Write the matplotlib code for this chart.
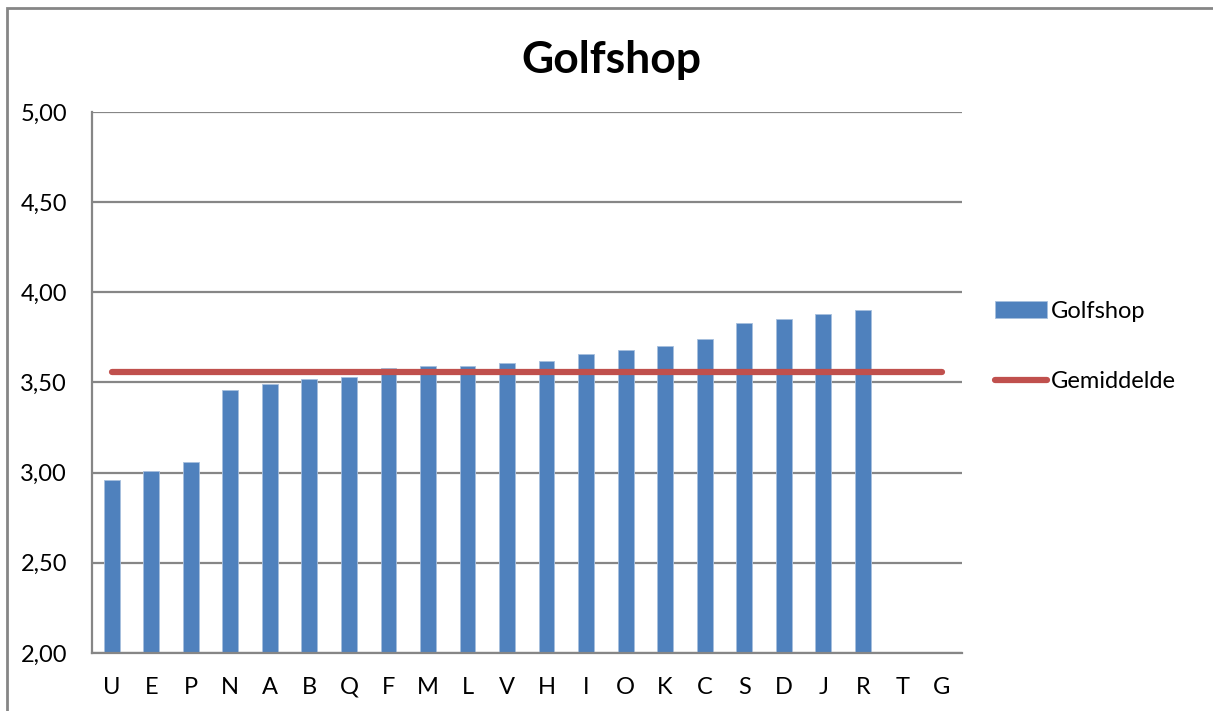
import matplotlib.pyplot as plt
from matplotlib.patches import Rectangle
from matplotlib.ticker import FuncFormatter

plt.rcParams['font.family'] = ['Lato', 'DejaVu Sans']

# data
categories = ['U', 'E', 'P', 'N', 'A', 'B', 'Q', 'F', 'M', 'L', 'V',
              'H', 'I', 'O', 'K', 'C', 'S', 'D', 'J', 'R', 'T', 'G']
golfshop = [2.96, 3.01, 3.06, 3.46, 3.49, 3.52, 3.53, 3.58, 3.59, 3.59, 3.61,
            3.62, 3.66, 3.68, 3.70, 3.74, 3.83, 3.85, 3.88, 3.90]
gemiddelde = [3.56] * len(categories)

bar_color = '#4F81BD'
line_color = '#C0504D'
grid_color = '#868686'

fig = plt.figure(figsize=(12.13, 7.11), dpi=100)
ax = fig.add_axes([0.0758, 0.0816, 0.717, 0.761])

x = list(range(len(categories)))
bars = ax.bar(x[:len(golfshop)], golfshop, width=0.4, color=bar_color,
              edgecolor='#A7BFDE', linewidth=0.6, label='Golfshop', zorder=2)
line, = ax.plot(x, gemiddelde, color=line_color, lw=4.5, solid_capstyle='round',
                label='Gemiddelde', zorder=3)

ax.set_xlim(-0.5, len(categories) - 0.5)
ax.set_ylim(2.0, 5.0)
ax.set_yticks([2.0, 2.5, 3.0, 3.5, 4.0, 4.5, 5.0])
ax.yaxis.set_major_formatter(FuncFormatter(lambda v, p: f'{v:.2f}'.replace('.', ',')))
ax.set_xticks(x)
ax.set_xticklabels(categories)
ax.tick_params(axis='both', length=0, labelsize=17, colors='black')
ax.tick_params(axis='y', pad=18)
ax.tick_params(axis='x', pad=17)

ax.grid(axis='y', color=grid_color, lw=1.6, zorder=0)
ax.set_axisbelow(True)
for side in ['top', 'right']:
    ax.spines[side].set_visible(False)
for side in ['left', 'bottom']:
    ax.spines[side].set_color(grid_color)
    ax.spines[side].set_linewidth(1.6)

fig.text(0.504, 0.915, 'Golfshop', ha='center', va='center',
         fontsize=32, fontweight='bold')

fig.legend([bars, line], ['Golfshop', 'Gemiddelde'],
           loc='center left', bbox_to_anchor=(0.820, 0.5127), frameon=False,
           fontsize=17, handlelength=2.2, handleheight=0.7, handletextpad=0.2,
           labelspacing=2.1, borderpad=0, borderaxespad=0)

# outer chart border
fig.patches.append(Rectangle((7 / 1213, -0.05), 1.2, 1 - 8 / 711 + 0.05,
                             transform=fig.transFigure, fill=False,
                             edgecolor=grid_color, lw=2))

fig.savefig('out.png', dpi=100)
